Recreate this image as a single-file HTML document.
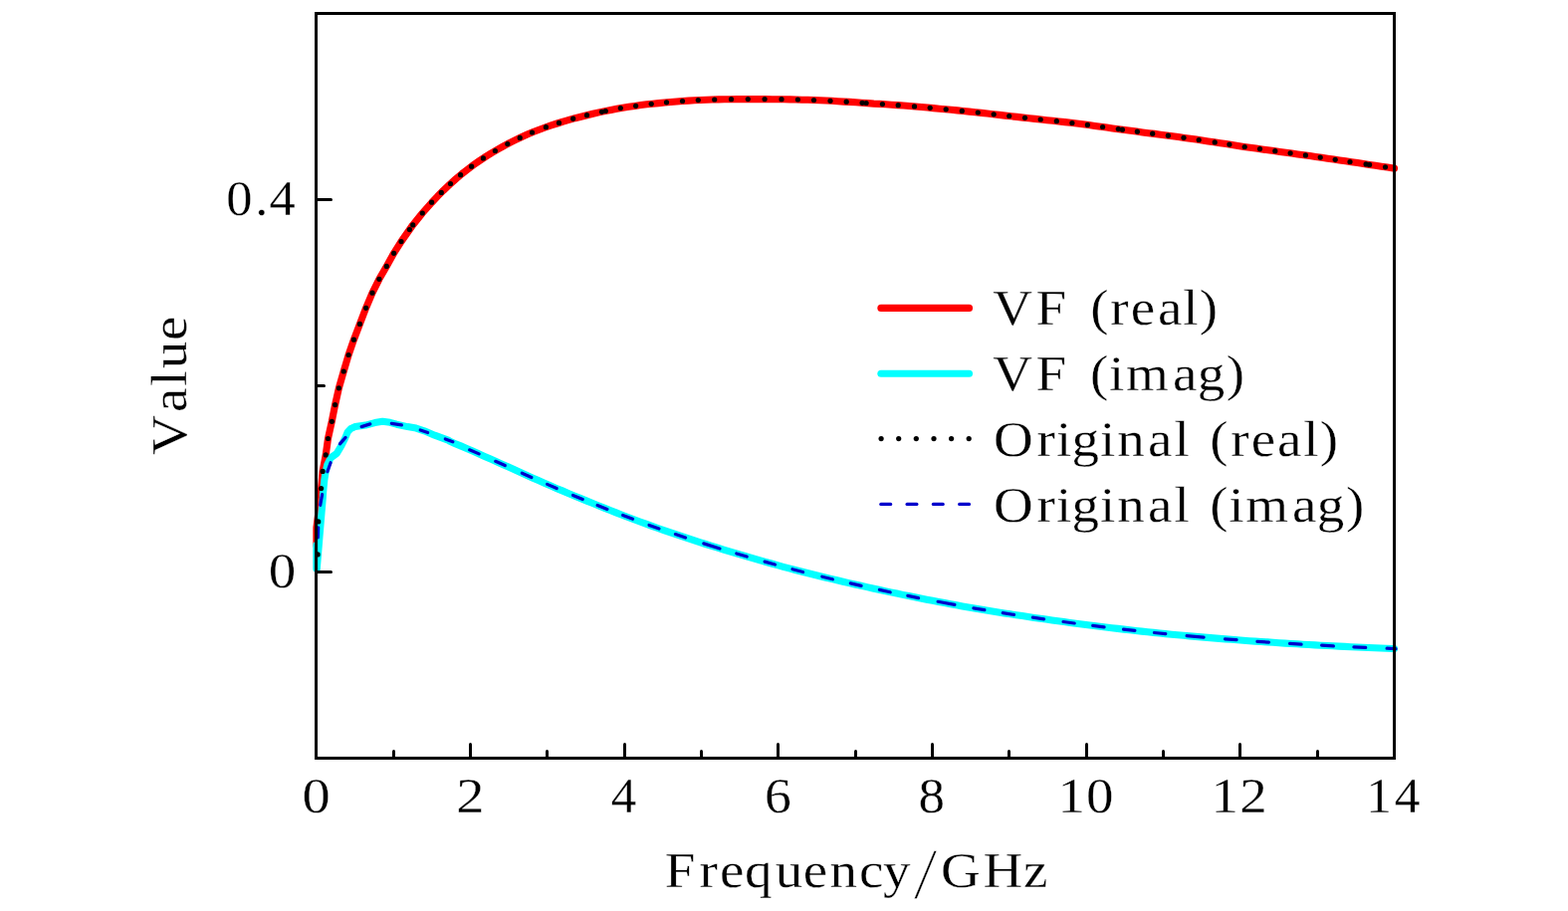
<!DOCTYPE html>
<html><head><meta charset="utf-8"><title>Vector fitting</title>
<style>
html,body{margin:0;padding:0;background:#fff;}
body{width:1575px;height:915px;overflow:hidden;}
svg{display:block;}
text{font-family:"Liberation Serif",serif;font-size:50px;fill:#000;letter-spacing:0;stroke:#fff;stroke-width:0.3px;}
</style></head><body>
<svg width="1575" height="915" viewBox="0 0 1575 915">
<rect x="0" y="0" width="1575" height="915" fill="#fff"/>

<path d="M317.9,548.0 L317.9,530.0 L319.7,516.0 L321.3,500.0 L322.6,490.5 L324.1,473.4 L327.2,456.9 L329.5,440.5 L333.3,423.3 L336.6,406.6 L340.4,389.8 L345.2,373.0 L350.1,356.5 L355.4,341.2 L361.4,325.4 L367.6,309.3 L374.0,294.2 L380.9,280.3 L388.3,267.4 L395.6,254.3 L403.0,242.6 L411.4,230.6 L414.7,225.9 L424.3,214.0 L433.6,203.5 L439.6,197.1 L445.6,191.1 L451.6,185.4 L457.6,180.0 L463.6,174.9 L469.6,170.2 L475.6,165.7 L481.6,161.5 L487.6,157.5 L493.6,153.7 L499.6,150.2 L505.6,146.8 L511.6,143.6 L517.6,140.6 L523.6,137.7 L529.6,135.0 L535.6,132.5 L541.6,130.2 L547.6,128.0 L553.6,125.9 L559.6,124.0 L565.6,122.1 L571.6,120.4 L577.6,118.7 L583.6,117.2 L589.6,115.7 L595.6,114.3 L601.6,112.9 L607.6,111.6 L613.6,110.4 L619.6,109.3 L625.6,108.2 L631.6,107.3 L637.6,106.4 L643.6,105.6 L649.6,104.8 L655.6,104.2 L661.6,103.6 L667.6,103.0 L673.6,102.5 L679.6,102.0 L685.6,101.5 L691.6,101.1 L697.6,100.8 L703.6,100.5 L709.6,100.2 L715.6,100.0 L721.6,99.9 L727.6,99.8 L733.6,99.7 L739.6,99.6 L745.6,99.6 L751.6,99.6 L757.6,99.6 L763.6,99.6 L769.6,99.6 L775.6,99.7 L781.6,99.7 L787.6,99.8 L793.6,99.9 L799.6,100.0 L805.6,100.2 L811.6,100.3 L817.6,100.5 L823.6,100.8 L829.6,101.0 L835.6,101.3 L841.6,101.7 L847.6,102.1 L853.6,102.4 L859.6,102.8 L865.6,103.2 L871.6,103.6 L877.6,104.1 L883.6,104.4 L889.6,104.8 L895.6,105.2 L901.6,105.6 L907.6,106.0 L913.6,106.5 L919.6,107.0 L925.6,107.5 L931.6,108.0 L937.6,108.6 L943.6,109.2 L949.6,109.8 L955.6,110.3 L961.6,110.9 L967.6,111.5 L973.6,112.1 L979.6,112.7 L985.6,113.4 L991.6,114.0 L997.6,114.7 L1003.6,115.4 L1009.6,116.1 L1015.6,116.8 L1021.6,117.4 L1027.6,118.1 L1033.6,118.7 L1039.6,119.4 L1045.6,120.0 L1051.6,120.7 L1057.6,121.3 L1063.6,122.0 L1069.6,122.6 L1075.6,123.3 L1081.6,124.0 L1087.6,124.8 L1093.6,125.6 L1099.6,126.4 L1105.6,127.2 L1111.6,128.0 L1117.6,128.9 L1123.6,129.7 L1129.6,130.5 L1135.6,131.3 L1141.6,132.1 L1147.6,132.9 L1153.6,133.7 L1159.6,134.4 L1165.6,135.2 L1171.6,136.0 L1177.6,136.8 L1183.6,137.6 L1189.6,138.4 L1195.6,139.3 L1201.6,140.1 L1207.6,141.0 L1213.6,141.9 L1219.6,142.8 L1225.6,143.7 L1231.6,144.6 L1237.6,145.6 L1243.6,146.5 L1249.6,147.4 L1255.6,148.2 L1261.6,149.1 L1267.6,149.9 L1273.6,150.8 L1279.6,151.6 L1285.6,152.4 L1291.6,153.2 L1297.6,154.0 L1303.6,154.9 L1309.6,155.7 L1315.6,156.5 L1321.6,157.4 L1327.6,158.3 L1333.6,159.2 L1339.6,160.0 L1345.6,160.9 L1351.6,161.8 L1357.6,162.7 L1363.6,163.6 L1369.6,164.5 L1375.6,165.4 L1381.6,166.3 L1387.6,167.2 L1393.6,168.1 L1399.6,169.0 L1400.5,169.1" fill="none" stroke="#ff0000" stroke-width="7.1" stroke-linecap="round" stroke-linejoin="round"/>
<path d="M317.9,547.4 L317.9,571.2 L318.3,571.2 L320.9,540.0 L323.0,515.0 L324.3,500.0 L324.7,493.6 L325.8,482.1 L327.0,474.4 L328.7,466.8 L332.2,459.9 L338.3,455.3 L342.9,447.7 L346.7,440.0 L349.2,433.9 L352.5,430.4 L356.8,428.6 L367.2,427.1 L376.5,424.6 L384.2,423.3 L391.8,424.3 L398.4,426.2 L409.3,428.6 L418.0,430.1 L426.2,432.8 L436.6,437.2 L450.8,442.4 L450.8,442.8 L456.8,445.4 L462.8,447.9 L468.8,450.5 L474.8,453.1 L480.8,455.8 L486.8,458.4 L492.8,461.0 L498.8,463.7 L504.8,466.4 L510.8,469.1 L516.8,471.8 L522.8,474.5 L528.8,477.2 L534.8,479.9 L540.8,482.5 L546.8,485.2 L552.8,487.8 L558.8,490.4 L564.8,492.9 L570.8,495.5 L576.8,498.0 L582.8,500.4 L588.8,502.9 L594.8,505.3 L600.8,507.7 L606.8,510.1 L612.8,512.5 L618.8,514.9 L624.8,517.2 L630.8,519.5 L636.8,521.8 L642.8,524.0 L648.8,526.2 L654.8,528.4 L660.8,530.5 L666.8,532.6 L672.8,534.7 L678.8,536.7 L684.8,538.7 L690.8,540.7 L696.8,542.7 L702.8,544.6 L708.8,546.5 L714.8,548.4 L720.8,550.2 L726.8,552.1 L732.8,553.9 L738.8,555.7 L744.8,557.4 L750.8,559.2 L756.8,560.9 L762.8,562.6 L768.8,564.3 L774.8,566.0 L780.8,567.6 L786.8,569.3 L792.8,570.9 L798.8,572.5 L804.8,574.0 L810.8,575.5 L816.8,577.0 L822.8,578.5 L828.8,580.0 L834.8,581.4 L840.8,582.8 L846.8,584.2 L852.8,585.6 L858.8,587.0 L864.8,588.3 L870.8,589.6 L876.8,591.0 L882.8,592.3 L888.8,593.6 L894.8,594.9 L900.8,596.1 L906.8,597.4 L912.8,598.6 L918.8,599.8 L924.8,601.0 L930.8,602.2 L936.8,603.3 L942.8,604.5 L948.8,605.6 L954.8,606.7 L960.8,607.8 L966.8,608.9 L972.8,609.9 L978.8,611.0 L984.8,612.0 L990.8,613.0 L996.8,614.0 L1002.8,614.9 L1008.8,615.9 L1014.8,616.8 L1020.8,617.7 L1026.8,618.6 L1032.8,619.5 L1038.8,620.4 L1044.8,621.3 L1050.8,622.1 L1056.8,623.0 L1062.8,623.8 L1068.8,624.6 L1074.8,625.4 L1080.8,626.2 L1086.8,627.0 L1092.8,627.8 L1098.8,628.5 L1104.8,629.3 L1110.8,630.0 L1116.8,630.7 L1122.8,631.4 L1128.8,632.1 L1134.8,632.8 L1140.8,633.5 L1146.8,634.1 L1152.8,634.8 L1158.8,635.4 L1164.8,636.0 L1170.8,636.6 L1176.8,637.2 L1182.8,637.8 L1188.8,638.3 L1194.8,638.9 L1200.8,639.4 L1206.8,639.9 L1212.8,640.4 L1218.8,640.9 L1224.8,641.4 L1230.8,641.9 L1236.8,642.3 L1242.8,642.8 L1248.8,643.3 L1254.8,643.7 L1260.8,644.1 L1266.8,644.5 L1272.8,644.9 L1278.8,645.3 L1284.8,645.7 L1290.8,646.1 L1296.8,646.5 L1302.8,646.8 L1308.8,647.2 L1314.8,647.5 L1320.8,647.9 L1326.8,648.2 L1332.8,648.5 L1338.8,648.8 L1344.8,649.1 L1350.8,649.4 L1356.8,649.7 L1362.8,650.0 L1368.8,650.2 L1374.8,650.5 L1380.8,650.8 L1386.8,651.0 L1392.8,651.2 L1398.8,651.5 L1400.5,651.5" fill="none" stroke="#00ffff" stroke-width="7.1" stroke-linecap="round" stroke-linejoin="round"/>
<g fill="#000"><circle cx="322.6" cy="490.5" r="2.6"/><circle cx="324.1" cy="473.4" r="2.6"/><circle cx="327.2" cy="456.9" r="2.6"/><circle cx="329.5" cy="440.5" r="2.6"/><circle cx="333.3" cy="423.3" r="2.6"/><circle cx="336.6" cy="406.6" r="2.6"/><circle cx="340.4" cy="389.8" r="2.6"/><circle cx="345.2" cy="373.0" r="2.6"/><circle cx="350.1" cy="356.5" r="2.6"/><circle cx="355.4" cy="341.2" r="2.6"/><circle cx="361.4" cy="325.4" r="2.6"/><circle cx="367.6" cy="309.3" r="2.6"/><circle cx="374.0" cy="294.2" r="2.6"/><circle cx="380.9" cy="280.3" r="2.6"/><circle cx="388.3" cy="267.4" r="2.6"/><circle cx="395.6" cy="254.3" r="2.6"/><circle cx="403.0" cy="242.6" r="2.6"/><circle cx="411.4" cy="230.6" r="2.6"/><circle cx="414.7" cy="225.9" r="2.6"/><circle cx="424.3" cy="214.0" r="2.6"/><circle cx="433.6" cy="203.2" r="2.6"/><circle cx="319.7" cy="523.9" r="2.6"/><circle cx="319.1" cy="556.9" r="2.6"/><circle cx="443.3" cy="193.4" r="2.6"/><circle cx="452.5" cy="184.5" r="2.6"/><circle cx="462.6" cy="175.7" r="2.6"/><circle cx="473.6" cy="167.2" r="2.6"/><circle cx="485.4" cy="158.9" r="2.6"/><circle cx="497.4" cy="151.5" r="2.6"/><circle cx="509.8" cy="144.6" r="2.6"/><circle cx="522.2" cy="138.4" r="2.6"/><circle cx="534.5" cy="133.0" r="2.6"/><circle cx="548.4" cy="127.7" r="2.6"/><circle cx="561.5" cy="123.4" r="2.6"/><circle cx="575.7" cy="119.2" r="2.6"/><circle cx="589.5" cy="115.7" r="2.6"/><circle cx="604.5" cy="112.3" r="2.6"/><circle cx="608.3" cy="111.5" r="2.6"/><circle cx="623.3" cy="108.6" r="2.6"/><circle cx="638.6" cy="106.3" r="2.6"/><circle cx="654.2" cy="104.3" r="2.6"/><circle cx="669.5" cy="102.8" r="2.6"/><circle cx="685.5" cy="101.5" r="2.6"/><circle cx="701.3" cy="100.6" r="2.6"/><circle cx="717.7" cy="100.0" r="2.6"/><circle cx="734.5" cy="99.7" r="2.6"/><circle cx="751.3" cy="99.6" r="2.6"/><circle cx="768.1" cy="99.6" r="2.6"/><circle cx="785.0" cy="99.7" r="2.6"/><circle cx="801.4" cy="100.0" r="2.6"/><circle cx="817.5" cy="100.5" r="2.6"/><circle cx="834.0" cy="101.3" r="2.6"/><circle cx="850.2" cy="102.2" r="2.6"/><circle cx="866.1" cy="103.3" r="2.6"/><circle cx="870.1" cy="103.5" r="2.6"/><circle cx="886.4" cy="104.6" r="2.6"/><circle cx="902.2" cy="105.7" r="2.6"/><circle cx="918.5" cy="106.9" r="2.6"/><circle cx="934.2" cy="108.3" r="2.6"/><circle cx="950.2" cy="109.8" r="2.6"/><circle cx="966.3" cy="111.4" r="2.6"/><circle cx="982.3" cy="113.0" r="2.6"/><circle cx="998.2" cy="114.8" r="2.6"/><circle cx="1013.7" cy="116.5" r="2.6"/><circle cx="1029.5" cy="118.3" r="2.6"/><circle cx="1045.2" cy="120.0" r="2.6"/><circle cx="1061.3" cy="121.7" r="2.6"/><circle cx="1076.9" cy="123.5" r="2.6"/><circle cx="1092.4" cy="125.4" r="2.6"/><circle cx="1107.6" cy="127.5" r="2.6"/><circle cx="1123.3" cy="129.6" r="2.6"/><circle cx="1127.4" cy="130.2" r="2.6"/><circle cx="1142.4" cy="132.2" r="2.6"/><circle cx="1157.7" cy="134.2" r="2.6"/><circle cx="1173.4" cy="136.2" r="2.6"/><circle cx="1189.0" cy="138.3" r="2.6"/><circle cx="1204.2" cy="140.5" r="2.6"/><circle cx="1220.2" cy="142.9" r="2.6"/><circle cx="1234.9" cy="145.1" r="2.6"/><circle cx="1250.2" cy="147.5" r="2.6"/><circle cx="1265.5" cy="149.6" r="2.6"/><circle cx="1280.8" cy="151.7" r="2.6"/><circle cx="1296.1" cy="153.8" r="2.6"/><circle cx="1311.4" cy="155.9" r="2.6"/><circle cx="1326.2" cy="158.1" r="2.6"/><circle cx="1341.2" cy="160.3" r="2.6"/><circle cx="1356.0" cy="162.5" r="2.6"/><circle cx="1372.1" cy="164.9" r="2.6"/><circle cx="1375.6" cy="165.4" r="2.6"/><circle cx="1391.5" cy="167.8" r="2.6"/></g>
<g stroke="#0000cc" stroke-width="3.2" stroke-linecap="round" fill="none"><path d="M319.3,539.9 L319.7,529.8"/><path d="M321.7,507.4 L323.6,496.6"/><path d="M328.9,473.8 L332.1,464.7"/><path d="M341.4,445.9 L347.1,439.4"/><path d="M363.1,428.6 L371.8,425.9"/><path d="M393.3,425.3 L403.4,426.9"/><path d="M422.2,432.0 L429.7,434.5"/><path d="M447.3,440.9 L454.9,443.8"/><path d="M471.6,451.8 L481.2,455.9"/><path d="M497.7,463.3 L507.3,467.5"/><path d="M524.3,475.2 L533.9,479.5"/><path d="M549.6,486.4 L559.2,490.5"/><path d="M575.5,497.4 L585.3,501.5"/><path d="M600.1,507.5 L609.9,511.4"/><path d="M625.6,517.5 L635.6,521.3"/><path d="M652.0,527.4 L662.0,531.0"/><path d="M678.4,536.6 L688.6,540.0"/><path d="M706.8,545.9 L723.0,551.0"/><path d="M739.8,556.0 L750.2,559.0"/><path d="M768.1,564.1 L778.5,567.0"/><path d="M796.0,571.7 L806.6,574.5"/><path d="M825.8,579.2 L836.4,581.8"/><path d="M854.3,585.9 L865.1,588.4"/><path d="M883.4,592.4 L894.2,594.8"/><path d="M911.8,598.4 L922.6,600.6"/><path d="M942.1,604.3 L958.9,607.4"/><path d="M977.9,610.8 L988.9,612.7"/><path d="M1007.3,615.6 L1018.5,617.4"/><path d="M1037.4,620.2 L1048.6,621.8"/><path d="M1068.0,624.5 L1079.2,626.0"/><path d="M1097.7,628.4 L1109.1,629.8"/><path d="M1128.5,632.1 L1139.9,633.4"/><path d="M1159.4,635.5 L1170.8,636.6"/><path d="M1192.1,638.6 L1209.1,640.1"/><path d="M1230.5,641.8 L1242.1,642.7"/><path d="M1262.9,644.3 L1274.5,645.1"/><path d="M1295.5,646.4 L1307.1,647.1"/><path d="M1327.6,648.2 L1339.4,648.9"/><path d="M1359.9,649.8 L1371.7,650.4"/><path d="M1393.1,651.2 L1402.0,651.6"/></g>
<g stroke="#000" stroke-width="3" fill="none" stroke-linecap="round">
<path d="M317.5,761.5 V747.5"/>
<path d="M395.5,761.5 V754.5"/>
<path d="M472.5,761.5 V747.5"/>
<path d="M549.5,761.5 V754.5"/>
<path d="M627.5,761.5 V747.5"/>
<path d="M704.5,761.5 V754.5"/>
<path d="M781.5,761.5 V747.5"/>
<path d="M859.5,761.5 V754.5"/>
<path d="M936.5,761.5 V747.5"/>
<path d="M1013.5,761.5 V754.5"/>
<path d="M1091.5,761.5 V747.5"/>
<path d="M1168.5,761.5 V754.5"/>
<path d="M1245.5,761.5 V747.5"/>
<path d="M1323.5,761.5 V754.5"/>
<path d="M1400.5,761.5 V747.5"/>
<path d="M317.5,200.5 H332.5"/>
<path d="M317.5,387.5 H325.5"/>
<path d="M317.5,574.5 H332.5"/>
</g>
<rect x="317.5" y="13.5" width="1083" height="748" fill="none" stroke="#000" stroke-width="3"/>
<path d="M884.9,309.4 H973.5" stroke="#ff0000" stroke-width="7.1" stroke-linecap="round" fill="none"/>
<path d="M884.9,375.3 H973.5" stroke="#00ffff" stroke-width="7.1" stroke-linecap="round" fill="none"/>
<g fill="#000"><circle cx="885.1" cy="440.6" r="2.6"/><circle cx="902.7" cy="440.6" r="2.6"/><circle cx="920.3" cy="440.6" r="2.6"/><circle cx="938.0" cy="440.6" r="2.6"/><circle cx="955.6" cy="440.6" r="2.6"/><circle cx="973.2" cy="440.6" r="2.6"/></g>
<g stroke="#0000cc" stroke-width="3.2" stroke-linecap="round" fill="none"><path d="M884.8,506.4 h9.8"/><path d="M911.1,506.4 h9.8"/><path d="M937.4,506.4 h9.8"/><path d="M963.7,506.4 h9.8"/></g>
<text transform="translate(0,326.00) scale(1.1,1)" x="906.51 945.97 979.20 995.65 1013.92 1032.60 1057.19 1080.27 1095.27">VF (real)</text>
<text transform="translate(0,391.90) scale(1.1,1)" x="906.51 945.97 979.20 995.51 1012.73 1028.28 1070.88 1093.36 1119.77">VF (imag)</text>
<text transform="translate(0,458.00) scale(1.1,1)" x="907.33 946.74 964.55 978.73 1004.55 1020.28 1048.10 1072.18 1089.20 1104.74 1123.92 1142.51 1166.28 1190.27 1205.27">Original (real)</text>
<text transform="translate(0,523.90) scale(1.1,1)" x="907.33 946.74 964.55 978.73 1004.55 1020.28 1048.10 1072.18 1089.20 1104.74 1121.95 1137.51 1180.10 1202.59 1229.00">Original (imag)</text>
<text transform="translate(0,815.60) scale(1.13,1)" x="268.56">0</text>
<text transform="translate(0,815.60) scale(1.13,1)" x="405.57">2</text>
<text transform="translate(0,815.60) scale(1.02,1)" x="601.72">4</text>
<text transform="translate(0,815.60) scale(1.075,1)" x="714.41">6</text>
<text transform="translate(0,815.60) scale(1.06,1)" x="870.24">8</text>
<text transform="translate(0,815.60) scale(1.1,1)" x="965.88 991.77">10</text>
<text transform="translate(0,815.60) scale(1.1,1)" x="1105.88 1131.97">12</text>
<text transform="translate(0,815.60) scale(1.03,1)" x="1332.41 1359.93">14</text>
<text transform="translate(0,216.20) scale(1.05,1)" x="216.45 244.04 257.64">0.4</text>
<text transform="translate(0,589.70) scale(1.1,1)" x="245.23">0</text>
<g aria-label="Frequency/GHz"><text transform="translate(0,891.00) scale(1.1,1)" x="607.01 638.65 657.33 679.91 707.90 733.51 757.65 784.48 806.43">Frequency</text><text transform="translate(918.50,902.20) skewX(-10) scale(1.0,1.43)">/</text><text transform="translate(0,891.00) scale(1.1,1)" x="859.08 897.73 934.45">GHz</text></g>
<text transform="translate(187.00,0) rotate(-90) scale(1.1,1)" x="-415.22 -376.35 -352.45 -336.65 -310.85">Value</text>
</svg></body></html>
